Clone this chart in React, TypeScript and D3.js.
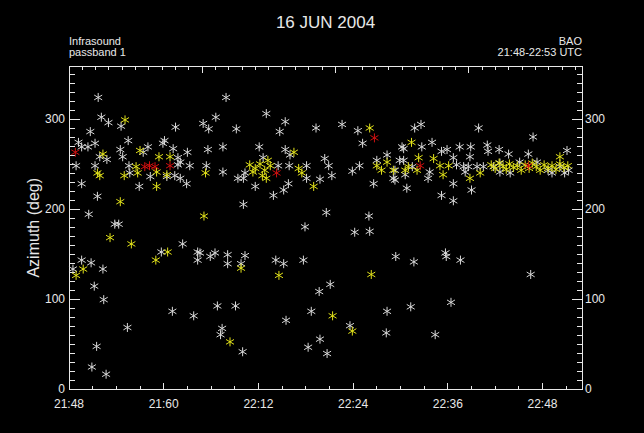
import React from "react";
import * as d3 from "d3";

// time = minutes after 21:48 UTC, azimuth in degrees
const whitePoints: [number, number][] = [
  [3.7,325],[19.9,325],[4.1,303],[5.0,297],[6.6,293],[2.7,287],[13.5,292],[17.0,296],[18.6,303],[17.7,290],[21.2,290],
  [1.2,275],[1.6,270],[2.4,270],[3.3,274],[7.5,277],[12.1,277],[11.9,274],[10.0,270],[9.4,264],[6.5,267],[6.8,259],[13.2,268],[15.0,264],[17.6,267],[19.5,270],
  [3.9,259],[4.8,256],[13.8,258],[0.9,249],[3.3,249],[7.6,249],[13.8,250],[15.3,249],[13.4,238],[14.9,229],[17.4,249],[19.5,242],[1.6,229],[8.9,226],[3.6,215],[7.7,241],[10.3,237],[14.1,235],[21.4,235],[14.1,253],[12.4,237],
  [25.0,307],[27.4,298],[26.7,287],[31.3,291],[34.6,295],[36.6,288],[37.2,274],[24.1,270],[27.4,267],[28.0,261],[32.4,257],[32.9,249],[30.1,249],[27.9,249],[24.6,258],[26.5,249],[30.1,235],[31.8,234],[33.3,238],[27.2,222],[27.8,229],[22.1,235],[22.3,241],[23.6,226],[25.9,216],[35.9,243],[36.8,249],[39.0,255],[40.3,261],[42.2,270],[41.3,244],[38.6,229],[41.1,235],[42.6,239],[42.8,224],[41.9,255],[41.3,233],[22.1,206],[32.6,197],[38.0,193],[29.9,181],[36.2,175],[38.1,176],
  [44.6,295],[43.8,291],[51.9,291],[58.8,281],[46.0,275],[44.7,270],[42.4,268],[47.9,267],[47.2,265],[49.5,270],[50.9,270],[53.0,272],[53.1,265],[54.5,267],[55.7,262],[58.2,262],[63.1,266],[48.7,258],[50.8,259],[45.7,242],[45.5,235],[47.2,216],[48.7,229],[48.7,210],[51.0,222],[50.2,242],[52.5,248],[54.6,242],[49.1,250],[50.0,248],[57.1,253],[60.7,244],[61.2,241],[59.3,253],[55.9,241],[54.6,252],[53.8,248],[51.7,248],[50.6,248],[62.2,248],[63.3,244],[62.8,241],[42.4,255],[43.5,248],
  [41.4,148],[43.7,142],[47.7,152],[47.8,148],[49.6,144],[58.5,128],[40.3,87],[43.3,92],[48.4,97],[40.2,63],[46.4,61],
  [16.6,152],[18.5,152],[17.9,148],[20.1,150],[20.1,140],[22.3,149],[21.8,140],[26.2,144],[27.2,140],[29.7,144],[33.1,117],[31.7,109],[18.8,93],[21.1,93],[30.7,87],[27.5,77],[19.4,68],[19.2,61],[22.0,42],[35.6,71],[31.8,56],[30.3,47],[32.7,40],
  [2.5,195],[5.8,184],[6.3,184],[14.4,162],[11.7,153],[16.3,153],[16.3,144],[1.6,144],[2.8,141],[0.5,134],[4.3,134],[3.2,115],[4.4,100],[13.1,87],[15.8,82],[7.4,69],[3.5,48],[2.9,25],[4.7,17],
];

const yellowPoints: [number, number][] = [
  [7.1,300],[9.0,266],[4.3,262],[11.4,259],[12.8,259],[3.9,238],[3.6,241],[7.0,238],[8.5,248],[8.7,241],[11.1,242],[12.4,239],[17.3,241],[11.1,226],
  [6.5,209],[5.2,169],[7.9,162],[12.5,153],[11.0,144],[1.8,134],[0.9,127],[17.1,193],[21.8,135],[26.6,127],[38.3,128],[33.4,82],[20.4,53],[35.9,65],
  [38.1,291],[28.5,264],[22.9,250],[23.6,246],[24.2,251],[24.8,244],[25.5,249],[23.3,242],[24.5,238],[25.2,255],[25.0,235],[29.1,246],[29.5,241],[31.0,226],[39.6,244],[39.0,249],[40.3,253],[41.1,244],
  [43.4,275],[62.2,259],[44.3,258],[46.2,257],[43.0,248],[42.6,244],[44.1,244],[47.0,249],[48.1,249],[47.4,239],[50.8,235],[52.1,241],
  [53.5,250],[54.0,246],[54.5,252],[55.0,248],[55.4,245],[55.8,251],[56.3,247],[56.8,249],[57.3,244],[57.8,250],[58.3,246],[58.7,252],[59.2,248],[59.7,244],[60.2,250],[60.7,246],[61.2,249],[61.7,245],[62.2,251],[62.7,247],[63.2,249],
];

const redPoints: [number, number][] = [
  [0.8,264],[9.6,248],[10.2,249],[10.9,248],[12.8,249],[38.7,280],[26.3,241],[44.5,249],[58.2,249],
];

const xTickValues = [0, 12, 24, 36, 48, 60];
const xTickLabels = ["21:48", "21:60", "22:12", "22:24", "22:36", "22:48"];
const yTickValues = [0, 100, 200, 300];

const W = 644, H = 433;
const L = 69, R = 582, T = 66, B = 389.5;
const AX = "#e8e8e8";
const FONT = "'Liberation Sans', Arial, Helvetica, sans-serif";

const STAR = "M0,-4.5V4.5M-4,-2.4L4,2.4M-4,2.4L4,-2.4";

export default function App() {
  const x = d3.scaleLinear().domain([0, 65]).range([L, R]);
  const y = d3.scaleLinear().domain([0, 360]).range([B, T]);
  const top = d3.scaleLinear().domain([0, 3.85]).range([L, R]);

  const xMinor = d3.range(0, 65.01, 3);
  const yMinor = d3.range(0, 360.01, 10);
  const topMinor = d3.range(0, 3.851, 0.1);

  const series: [typeof whitePoints, string][] = [
    [whitePoints, "#d8d8d8"],
    [yellowPoints, "#e2e21a"],
    [redPoints, "#d01010"],
  ];

  return (
    <svg width={W} height={H} style={{ position: "absolute", left: 0, top: 0, background: "#000" }}>
      <rect x={0} y={0} width={W} height={H} fill="#000" />
      <text x={(L + R) / 2} y={28} fill={AX} fontFamily={FONT} fontSize={17} textAnchor="middle">16 JUN 2004</text>
      <text x={L} y={45} fill={AX} fontFamily={FONT} fontSize={11}>Infrasound</text>
      <text x={L} y={56} fill={AX} fontFamily={FONT} fontSize={11}>passband 1</text>
      <text x={R} y={45} fill={AX} fontFamily={FONT} fontSize={11} textAnchor="end">BAO</text>
      <text x={R} y={56} fill={AX} fontFamily={FONT} fontSize={11} textAnchor="end">21:48-22:53 UTC</text>

      <g shapeRendering="crispEdges" stroke={AX} strokeWidth={1}>
        <rect x={L} y={T} width={R - L} height={B - T} fill="none" />
        {xMinor.map((v) => {
          const major = v % 12 === 0;
          return <line key={"bx" + v} x1={x(v)} x2={x(v)} y1={B} y2={B - (major ? 7 : 4)} />;
        })}
        {topMinor.map((v, i) => {
          const major = i % 10 === 0;
          return <line key={"tx" + i} x1={top(v)} x2={top(v)} y1={T} y2={T + (major ? 7 : 3.5)} />;
        })}
        {yMinor.map((v) => {
          const major = v % 100 === 0;
          return (
            <g key={"y" + v}>
              <line x1={L} x2={L + (major ? 11 : 5.5)} y1={y(v)} y2={y(v)} />
              <line x1={R} x2={R - (major ? 10 : 5)} y1={y(v)} y2={y(v)} />
            </g>
          );
        })}
      </g>

      {xTickValues.map((v, i) => (
        <text key={"xl" + v} x={x(v)} y={408} fill={AX} fontFamily={FONT} fontSize={12} textAnchor="middle">{xTickLabels[i]}</text>
      ))}
      {yTickValues.map((v) => (
        <g key={"yl" + v}>
          <text x={L - 4} y={y(v) + 3.5} fill={AX} fontFamily={FONT} fontSize={12} textAnchor="end">{v}</text>
          <text x={R + 3} y={y(v) + 3.5} fill={AX} fontFamily={FONT} fontSize={12} textAnchor="start">{v}</text>
        </g>
      ))}
      <text transform={`translate(39,${(T + B) / 2}) rotate(-90)`} fill={AX} fontFamily={FONT} fontSize={16} textAnchor="middle">Azimuth (deg)</text>

      {series.map(([pts, color], si) => (
        <g key={"s" + si} stroke={color} strokeWidth={1} fill="none">
          {pts.map((p, i) => (
            <path key={i} d={STAR} transform={`translate(${x(p[0])},${y(p[1])})`} />
          ))}
        </g>
      ))}
    </svg>
  );
}
